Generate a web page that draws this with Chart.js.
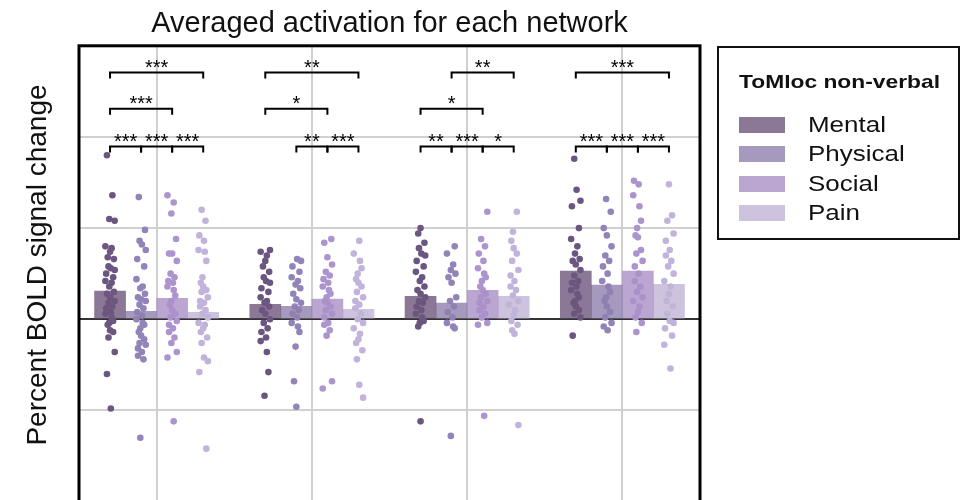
<!DOCTYPE html>
<html>
<head>
<meta charset="utf-8">
<script src="https://cdn.jsdelivr.net/npm/chart.js@4.4.1/dist/chart.umd.min.js"></script>
<style>
  html, body { margin: 0; padding: 0; background: #fff; overflow: hidden; }
  #wrap { position: relative; width: 962px; height: 500px; overflow: hidden; }
  #chart { position: absolute; left: 0; top: 0; }
  #legend {
    position: absolute; left: 717px; top: 46px; width: 243px; height: 194px;
    border: 2px solid #111; box-sizing: border-box;
    font-family: "Liberation Sans", Arial, sans-serif; color: #111;
  }
  #legend .ttl { position: absolute; left: 20px; top: 24px; font-size: 19px; line-height: 19px; font-weight: bold;
    white-space: nowrap; transform: scaleX(1.2); transform-origin: left center; }
  #legend .row { position: absolute; left: 20px; height: 16px; display: flex; align-items: center; }
  #legend .sw { width: 46px; height: 16px; }
  #legend .lab { margin-left: 23px; font-size: 22px; line-height: 22px; white-space: nowrap;
    transform: scaleX(1.18); transform-origin: left center; }
</style>
</head>
<body>
<div id="wrap">
  <canvas id="chart" width="780" height="542"></canvas>
  <div id="legend"></div>
</div>
<script>
// networks (x categories, labels not shown in the figure) and conditions
const NETWORKS = ['Network 1', 'Network 2', 'Network 3', 'Network 4'];
const CONDITIONS = ['Mental', 'Physical', 'Social', 'Pain'];

// mean percent signal change (bar heights)
const MENTAL = [0.154, 0.082, 0.126, 0.264];
const PHYSICAL = [0.044, 0.071, 0.088, 0.187];
const SOCIAL = [0.115, 0.110, 0.159, 0.264];
const PAIN = [0.038, 0.055, 0.126, 0.192];

// single subject values, one list per network
const MENTAL_PTS = [
  [0.90, 0.68, 0.55, 0.54, 0.40, 0.39, 0.37, 0.34, 0.33, 0.29, 0.28, 0.27, 0.25, 0.23, 0.21, 0.20, 0.18, 0.15, 0.14, 0.12, 0.10, 0.09, 0.07, 0.06, 0.04, 0.03, 0.01, -0.01, -0.02, -0.03, -0.06, -0.07, -0.10, -0.18, -0.30, -0.49],
  [0.38, 0.37, 0.35, 0.32, 0.29, 0.26, 0.23, 0.21, 0.20, 0.17, 0.15, 0.12, 0.10, 0.09, 0.07, 0.05, 0.03, 0.00, -0.02, -0.05, -0.07, -0.10, -0.12, -0.18, -0.29, -0.42],
  [0.50, 0.47, 0.42, 0.39, 0.36, 0.35, 0.32, 0.29, 0.26, 0.23, 0.21, 0.18, 0.16, 0.14, 0.12, 0.10, 0.09, 0.07, 0.05, 0.03, 0.01, -0.01, -0.02, -0.04, -0.56],
  [0.88, 0.71, 0.65, 0.62, 0.50, 0.44, 0.40, 0.36, 0.33, 0.32, 0.30, 0.27, 0.24, 0.21, 0.20, 0.18, 0.16, 0.14, 0.12, 0.10, 0.09, 0.07, 0.05, 0.03, 0.01, -0.09]
];
const PHYSICAL_PTS = [
  [0.67, 0.49, 0.43, 0.41, 0.38, 0.33, 0.29, 0.22, 0.18, 0.17, 0.14, 0.12, 0.11, 0.10, 0.08, 0.06, 0.04, 0.02, 0.00, -0.02, -0.03, -0.05, -0.07, -0.09, -0.11, -0.13, -0.14, -0.16, -0.18, -0.20, -0.22, -0.65],
  [0.33, 0.32, 0.29, 0.26, 0.23, 0.21, 0.19, 0.17, 0.14, 0.11, 0.09, 0.07, 0.05, 0.03, 0.01, -0.02, -0.04, -0.07, -0.15, -0.34, -0.48],
  [0.40, 0.36, 0.30, 0.27, 0.25, 0.23, 0.20, 0.12, 0.10, 0.07, 0.04, 0.01, -0.02, -0.04, -0.05, -0.64],
  [0.66, 0.59, 0.50, 0.46, 0.40, 0.35, 0.32, 0.29, 0.25, 0.21, 0.18, 0.15, 0.12, 0.10, 0.07, 0.04, 0.01, -0.02, -0.04, -0.06]
];
const SOCIAL_PTS = [
  [0.68, 0.64, 0.58, 0.44, 0.36, 0.36, 0.32, 0.25, 0.23, 0.21, 0.20, 0.18, 0.16, 0.13, 0.10, 0.08, 0.05, 0.03, 0.01, -0.01, -0.03, -0.05, -0.07, -0.10, -0.13, -0.18, -0.21, -0.56],
  [0.44, 0.42, 0.34, 0.30, 0.26, 0.24, 0.22, 0.20, 0.18, 0.16, 0.14, 0.12, 0.10, 0.09, 0.07, 0.05, 0.03, 0.01, -0.02, -0.03, -0.06, -0.09, -0.34, -0.38],
  [0.59, 0.44, 0.40, 0.36, 0.32, 0.28, 0.25, 0.23, 0.21, 0.18, 0.16, 0.14, 0.12, 0.10, 0.09, 0.07, 0.05, 0.03, 0.01, -0.02, -0.03, -0.53],
  [0.76, 0.74, 0.68, 0.62, 0.54, 0.50, 0.46, 0.45, 0.38, 0.36, 0.32, 0.29, 0.25, 0.21, 0.18, 0.15, 0.12, 0.10, 0.07, 0.04, 0.01, -0.02, -0.07]
];
const PAIN_PTS = [
  [0.60, 0.54, 0.46, 0.43, 0.38, 0.37, 0.32, 0.23, 0.20, 0.18, 0.16, 0.15, 0.12, 0.10, 0.09, 0.07, 0.05, 0.03, 0.01, -0.02, -0.03, -0.05, -0.07, -0.10, -0.13, -0.21, -0.23, -0.29, -0.71],
  [0.43, 0.36, 0.32, 0.28, 0.25, 0.22, 0.20, 0.18, 0.15, 0.12, 0.10, 0.08, 0.06, 0.03, 0.00, -0.02, -0.05, -0.08, -0.11, -0.13, -0.17, -0.22, -0.36, -0.43],
  [0.59, 0.48, 0.43, 0.39, 0.36, 0.32, 0.27, 0.24, 0.21, 0.18, 0.16, 0.13, 0.10, 0.08, 0.05, 0.02, -0.01, -0.03, -0.06, -0.08, -0.58],
  [0.74, 0.57, 0.54, 0.47, 0.43, 0.38, 0.35, 0.32, 0.29, 0.25, 0.21, 0.18, 0.14, 0.10, 0.07, 0.03, -0.01, -0.02, -0.05, -0.09, -0.14, -0.27]
];

// horizontal strip jitter (in category units)
const JITTER = [-0.02, 0.015, -0.005, 0.03, -0.03, 0.01, 0.0, -0.015, 0.025, -0.01, 0.005, 0.03, -0.025, 0.02, -0.03, 0.01, -0.005, 0.025, -0.02, 0.0, 0.03, -0.01, 0.015, -0.025, 0.005, -0.03, 0.01, 0.02, -0.005, -0.015, 0.0, 0.02, -0.01, 0.03, -0.02, 0.005];

// significance brackets: [network, from condition, to condition, level, stars]
const BRACKETS = [
  [0, 0, 3, 2, '***'], [0, 0, 2, 1, '***'], [0, 0, 1, 0, '***'], [0, 1, 2, 0, '***'], [0, 2, 3, 0, '***'],
  [1, 0, 3, 2, '**'], [1, 0, 2, 1, '*'], [1, 1, 2, 0, '**'], [1, 2, 3, 0, '***'],
  [2, 1, 3, 2, '**'], [2, 0, 2, 1, '*'], [2, 0, 1, 0, '**'], [2, 1, 2, 0, '***'], [2, 2, 3, 0, '*'],
  [3, 0, 3, 2, '***'], [3, 0, 1, 0, '***'], [3, 1, 2, 0, '***'], [3, 2, 3, 0, '***']
];
const BRACKET_LEVELS = [0.947, 1.154, 1.353];

const BAR_COLORS = ['rgba(110,86,124,0.8)', 'rgba(142,128,174,0.8)', 'rgba(170,144,199,0.8)', 'rgba(192,180,214,0.8)'];
const SWATCH_COLORS = ['#8b7896', '#a599be', '#bba6d2', '#cdc3de'];
const POINT_COLORS = ['#6b5682', '#9284b8', '#ac95cf', '#c2b3dc'];
const BAR_OFFSETS = [-0.3, -0.1, 0.1, 0.3];   // hue position inside a network
const BAR_PX = 31;                            // 0.2 of a category
const FONT = '"Liberation Sans", Arial, sans-serif';

const barSeries = [MENTAL, PHYSICAL, SOCIAL, PAIN];
const ptSeries = [MENTAL_PTS, PHYSICAL_PTS, SOCIAL_PTS, PAIN_PTS];

const datasets = [];
// bars sit on the numeric x axis (xs) so they line up with the strip points
CONDITIONS.forEach((name, c) => {
  datasets.push({
    type: 'bar', label: name, xAxisID: 'xs',
    data: barSeries[c].map((v, g) => ({ x: g + BAR_OFFSETS[c], y: v })),
    backgroundColor: BAR_COLORS[c], borderWidth: 0,
    grouped: false, barThickness: BAR_PX, order: 0
  });
});
CONDITIONS.forEach((name, c) => {
  const pts = [];
  ptSeries[c].forEach((vals, g) => {
    vals.forEach((v, k) => pts.push({ x: g + BAR_OFFSETS[c] + JITTER[(k + c * 7 + g * 3) % JITTER.length], y: v }));
  });
  datasets.push({
    type: 'scatter', label: name + ' subjects', data: pts, xAxisID: 'xs',
    backgroundColor: POINT_COLORS[c], borderWidth: 0, pointRadius: 3.3, order: 1
  });
});

// frame, brackets and rotated y label
const extras = {
  id: 'extras',
  afterDatasetsDraw(chart) {
    const { ctx, chartArea: a } = chart;
    const xs = chart.scales.xs, y = chart.scales.y;
    ctx.save();
    ctx.strokeStyle = '#000';
    ctx.lineWidth = 2;
    ctx.fillStyle = '#000';
    ctx.font = '20px ' + FONT;
    ctx.textAlign = 'center';
    ctx.textBaseline = 'alphabetic';
    BRACKETS.forEach(([g, c1, c2, lvl, stars]) => {
      const x1 = xs.getPixelForValue(g + BAR_OFFSETS[c1]);
      const x2 = xs.getPixelForValue(g + BAR_OFFSETS[c2]);
      const yy = y.getPixelForValue(BRACKET_LEVELS[lvl]);
      ctx.beginPath();
      ctx.moveTo(x1, yy + 6); ctx.lineTo(x1, yy); ctx.lineTo(x2, yy); ctx.lineTo(x2, yy + 6);
      ctx.stroke();
      ctx.fillText(stars, (x1 + x2) / 2, yy + 1);
    });
    ctx.lineWidth = 3;
    ctx.strokeRect(a.left, a.top, a.right - a.left, a.bottom - a.top + 10);

    ctx.translate(38, 265);
    ctx.rotate(-Math.PI / 2);
    ctx.font = '28px ' + FONT;
    ctx.fillStyle = '#111';
    ctx.textBaseline = 'middle';
    ctx.fillText('Percent BOLD signal change', 0, 0);
    ctx.restore();
  }
};

new Chart(document.getElementById('chart'), {
  type: 'bar',
  data: { labels: NETWORKS, datasets },
  options: {
    responsive: false,
    animation: false,
    layout: { padding: { left: 79, right: 80, top: 0, bottom: 0 } },
    plugins: {
      legend: { display: false },
      tooltip: { enabled: false },
      title: {
        display: true, text: 'Averaged activation for each network', color: '#111',
        font: { family: FONT, size: 29, weight: 'normal', lineHeight: 1.2 },
        padding: { top: 7, bottom: 4 }
      }
    },
    scales: {
      // category axis only used for the vertical grid lines at network centres
      x: {
        type: 'category', offset: true,
        grid: { offset: false, color: '#d0d0d0', lineWidth: 2, drawTicks: false },
        border: { display: false },
        ticks: { display: false }
      },
      xs: { type: 'linear', min: -0.5, max: 3.5, offset: false, display: false },
      y: {
        min: -1.2, max: 1.5,
        ticks: { display: false, stepSize: 0.5 },
        border: { display: false },
        grid: {
          drawTicks: false, lineWidth: 2,
          color: c => c.tick && c.tick.value === 0 ? '#333' : '#d0d0d0'
        }
      }
    }
  },
  plugins: [extras]
});

// html legend box
const legend = document.getElementById('legend');
legend.innerHTML = '<div class="ttl">ToMloc non-verbal</div>' + CONDITIONS.map((name, i) =>
  `<div class="row" style="top:${69 + i * 29.3}px"><div class="sw" style="background:${SWATCH_COLORS[i]}"></div><div class="lab">${name}</div></div>`
).join('');
</script>
</body>
</html>
